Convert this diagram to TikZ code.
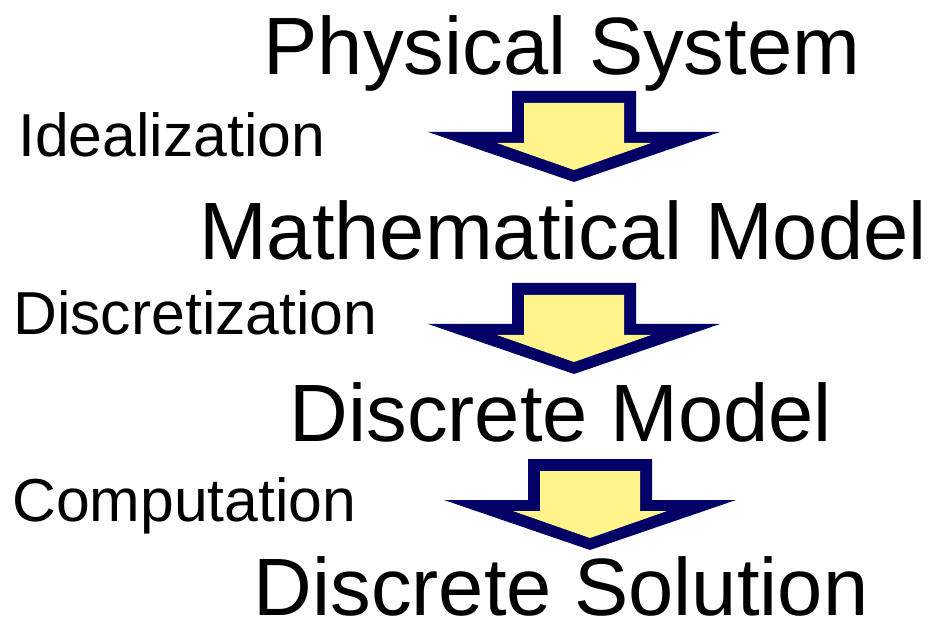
\documentclass[tikz,border=0pt]{standalone}
\usepackage{fontspec}
\setmainfont{Liberation Sans}
\definecolor{arrowblue}{RGB}{0,0,102}
\definecolor{arrowfill}{RGB}{255,245,140}
\tikzset{
  stage/.style={anchor=base, inner sep=0pt, font=\fontsize{61}{72}\selectfont},
  process/.style={anchor=base west, inner sep=0pt, font=\fontsize{45.5}{52}\selectfont},
  fatarrow/.pic={
    \fill[arrowblue] (-62,0) -- (62,0) -- (62,41) -- (146,41) -- (0,91) -- (-146,41) -- (-62,41) -- cycle;
    \fill[arrowfill] (-50,12) -- (50,12) -- (50,52) -- (77,52) -- (0,79) -- (-77,52) -- (-50,52) -- cycle;
  }
}

\begin{document}
\begin{tikzpicture}[x=0.75pt, y=-0.75pt]
   \useasboundingbox (0,0) rectangle (942,634);
   % stages
   \node[stage] (phys) at (562,75)  {Physical System};
   \node[stage] (math) at (563,260) {Mathematical Model};
   \node[stage] (disc) at (561,441) {Discrete Model};
   \node[stage] (sol)  at (561,615) {Discrete Solution};
   % steps
   \node[process] (ideal) at (18,157) {Idealization};
   \node[process] (discr) at (13,335) {Discretization};
   \node[process] (comp)  at (12,521) {Computation};
   % arrows
   \pic (arr1) at (574,91)  {fatarrow};
   \pic (arr2) at (574,283) {fatarrow};
   \pic (arr3) at (590,459) {fatarrow};
\end{tikzpicture}
\end{document}
